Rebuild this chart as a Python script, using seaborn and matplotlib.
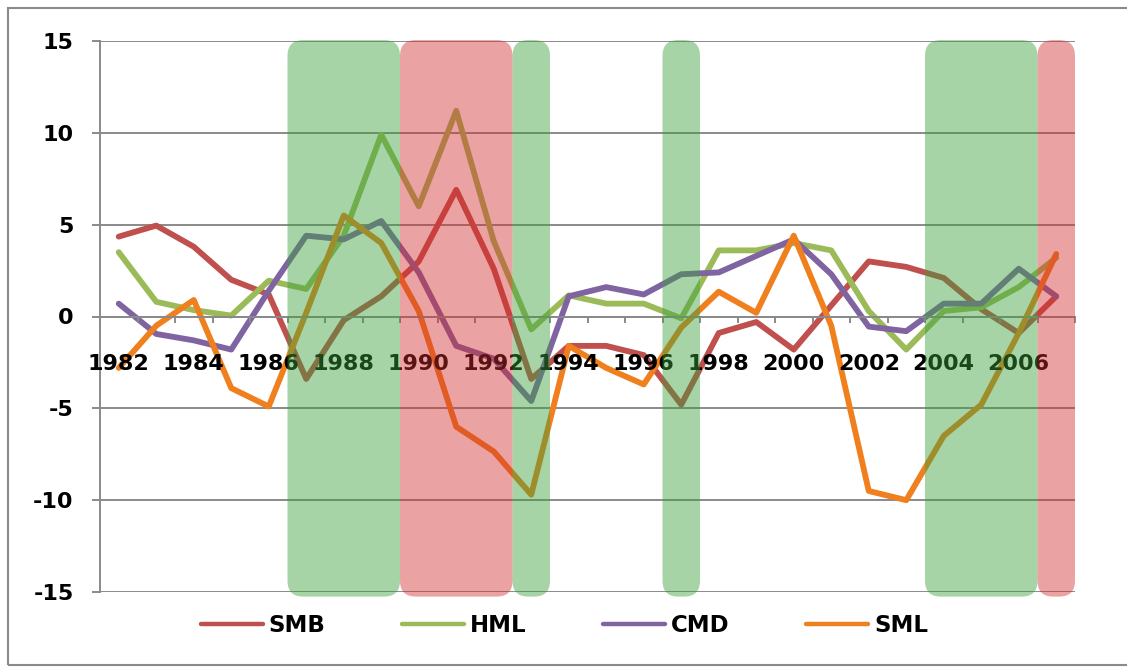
import matplotlib
matplotlib.use("Agg")
import matplotlib.pyplot as plt
from matplotlib.patches import FancyBboxPatch, Rectangle
import numpy as np
import pandas as pd
import seaborn as sns

# ---- data -------------------------------------------------------------
years = list(range(1982, 2008))
smb = [4.35, 4.95, 3.8, 2.0, 1.2, -3.4, -0.2, 1.1, 3.0, 6.9, 2.6, -3.4, -1.6,
       -1.6, -2.1, -4.8, -0.9, -0.3, -1.8, 0.6, 3.0, 2.7, 2.1, 0.4, -0.9, 1.1]
hml = [3.5, 0.8, 0.35, 0.05, 1.95, 1.5, 4.4, 9.9, 6.0, 11.2, 4.1, -0.7, 1.15,
       0.7, 0.7, -0.1, 3.6, 3.6, 4.0, 3.6, 0.3, -1.8, 0.3, 0.5, 1.6, 3.2]
cmd = [0.7, -0.95, -1.3, -1.8, 1.4, 4.4, 4.2, 5.2, 2.4, -1.6, -2.3, -4.6, 1.1,
       1.6, 1.2, 2.3, 2.4, 3.3, 4.2, 2.3, -0.55, -0.8, 0.7, 0.7, 2.6, 1.1]
sml = [-2.8, -0.5, 0.9, -3.9, -4.9, 0.2, 5.5, 4.0, 0.3, -6.0, -7.35, -9.7, -1.6,
       -2.8, -3.7, -0.6, 1.35, 0.2, 4.4, -0.5, -9.5, -10.0, -6.5, -4.8, -0.9, 3.4]
series_names = ["SMB", "HML", "CMD", "SML"]

# shaded periods: (first year, last year)
green_periods = [(1987, 1989), (1993, 1993), (1997, 1997), (2004, 2006)]
red_periods = [(1990, 1992), (2007, 2007)]

tick_years = list(range(1982, 2007, 2))
y_ticks = [-15, -10, -5, 0, 5, 10, 15]

# ---- styling ----------------------------------------------------------
sns.set_theme(style="white")
plt.rcParams["font.family"] = ["DejaVu Sans"]
plt.rcParams["text.color"] = "black"

palette = {"SMB": "#C0504D", "HML": "#9BBB59", "CMD": "#8064A2", "SML": "#F07F1E"}
grid_col = "#8A8A8A"

df = pd.DataFrame({"year": years, "SMB": smb, "HML": hml, "CMD": cmd, "SML": sml})
long = df.melt(id_vars="year", value_vars=series_names,
               var_name="series", value_name="value")

fig = plt.figure(figsize=(11.27, 6.67), dpi=100)
ax = fig.add_axes([100 / 1127, 1 - 592 / 667, 975 / 1127, 551 / 667])

# horizontal grid lines, kept beneath the series
for yv in y_ticks:
    ax.axhline(yv, color=grid_col, lw=1.4, zorder=1)

sns.lineplot(data=long, x="year", y="value", hue="series", hue_order=series_names,
             palette=palette, linewidth=4.2, ax=ax, sort=False,
             solid_joinstyle="round", solid_capstyle="round", zorder=2)

ax.set_xlim(1981.5, 2007.5)
ax.set_ylim(-15, 15)
ax.set_xlabel("")
ax.set_ylabel("")

# axes decorations in the Excel look
for side in ("top", "right"):
    ax.spines[side].set_visible(False)
ax.spines["left"].set_color(grid_col)
ax.spines["left"].set_linewidth(1.4)
ax.spines["bottom"].set_position(("data", 0))
ax.spines["bottom"].set_color(grid_col)
ax.spines["bottom"].set_linewidth(1.4)

ax.set_yticks(y_ticks)
ax.set_yticklabels([str(v) for v in y_ticks])
ax.tick_params(axis="y", which="major", direction="out", length=6, width=1.4,
               color=grid_col, pad=13, labelsize=16, left=True)

ax.set_xticks(np.arange(1981.5, 2008.0, 1.0))
ax.set_xticklabels([])
ax.tick_params(axis="x", which="major", direction="out", length=4.5, width=1.4,
               color=grid_col, bottom=True)
ax.set_xticks(tick_years, minor=True)
ax.set_xticklabels([str(y) for y in tick_years], minor=True)
ax.tick_params(axis="x", which="minor", length=0, pad=27, labelsize=16)
for lab in ax.get_xticklabels(minor=True) + ax.get_yticklabels():
    lab.set_fontweight("bold")
    lab.set_color("black")
ax.set_axisbelow(False)
ax.xaxis.set_zorder(2.5)

# translucent period bands laid over the series
aspect = (30 / 551) / (26 / 975)
def add_band(y0, y1, color, alpha):
    ax.add_patch(FancyBboxPatch((y0 - 0.5, -15.25), (y1 - y0 + 1), 30.3,
                                boxstyle="round,pad=0,rounding_size=0.42",
                                mutation_aspect=aspect, facecolor=color,
                                edgecolor="none", alpha=alpha, zorder=3,
                                clip_on=False))

for a, b in green_periods:
    add_band(a, b, (60 / 255, 160 / 255, 60 / 255), 0.45)
for a, b in red_periods:
    add_band(a, b, (210 / 255, 45 / 255, 45 / 255), 0.44)

# legend below the plot
handles, labels = ax.get_legend_handles_labels()
ax.get_legend().remove()
leg = fig.legend(handles, labels, loc="center", bbox_to_anchor=(0.501, 0.0615),
                 ncol=4, frameon=False, handlelength=2.7, handletextpad=0.25,
                 columnspacing=3.35, prop={"weight": "bold", "size": 16.5})
for ln in leg.get_lines():
    ln.set_linewidth(3.2)
for txt in leg.get_texts():
    txt.set_color("black")

# outer chart border
fig.patches.append(Rectangle((7.5 / 1127, 2 / 667), 1.2, 657 / 667, fill=False,
                             edgecolor=grid_col, lw=1.5,
                             transform=fig.transFigure, figure=fig))

fig.savefig("out.png", dpi=100)
